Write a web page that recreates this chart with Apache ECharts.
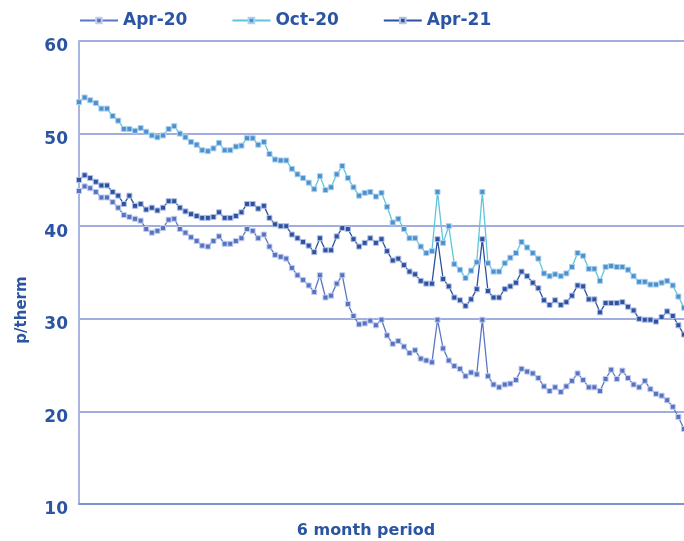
<!DOCTYPE html>
<html lang="en">
<head>
<meta charset="UTF-8">
<title>p/therm</title>
<script src="https://cdn.jsdelivr.net/npm/echarts@6/dist/echarts.min.js"></script>
<style>
  html, body { margin: 0; padding: 0; background: #fff; }
  #main { width: 684px; height: 541px; }
</style>
</head>
<body>
<div id="main"></div>
<script>
// p/therm, one point per trading day over the 6 month period
const apr20 = [
  43.8, 44.3, 44.1, 43.7, 43.1, 43.1, 42.6, 42.0, 41.2, 41.0,
  40.8, 40.6, 39.7, 39.3, 39.5, 39.8, 40.7, 40.8, 39.7, 39.3,
  38.8, 38.4, 37.9, 37.8, 38.4, 38.9, 38.1, 38.1, 38.4, 38.7,
  39.7, 39.5, 38.7, 39.1, 37.8, 36.9, 36.7, 36.5, 35.5, 34.7,
  34.2, 33.6, 32.9, 34.7, 32.3, 32.5, 33.8, 34.7, 31.6, 30.3,
  29.4, 29.5, 29.8, 29.3, 29.9, 28.2, 27.3, 27.6, 27.0, 26.3,
  26.6, 25.7, 25.5, 25.3, 29.9, 26.8, 25.5, 24.9, 24.6, 23.8,
  24.2, 24.0, 29.9, 23.8, 22.9, 22.6, 22.9, 23.0, 23.4, 24.6,
  24.3, 24.1, 23.6, 22.7, 22.2, 22.6, 22.1, 22.7, 23.3, 24.1,
  23.4, 22.6, 22.6, 22.2, 23.5, 24.5, 23.5, 24.4, 23.6, 22.9,
  22.6, 23.3, 22.4, 21.9, 21.7, 21.2, 20.5, 19.4, 18.1
];
const oct20 = [
  53.4, 53.9, 53.6, 53.3, 52.7, 52.7, 51.9, 51.4, 50.5, 50.5,
  50.3, 50.6, 50.2, 49.8, 49.6, 49.8, 50.5, 50.8, 50.0, 49.6,
  49.1, 48.8, 48.2, 48.1, 48.4, 49.0, 48.2, 48.2, 48.6, 48.7,
  49.5, 49.5, 48.8, 49.1, 47.8, 47.2, 47.1, 47.1, 46.2, 45.6,
  45.2, 44.7, 44.0, 45.4, 43.9, 44.2, 45.6, 46.5, 45.2, 44.2,
  43.3, 43.6, 43.7, 43.2, 43.6, 42.1, 40.4, 40.8, 39.7, 38.7,
  38.7, 37.8, 37.1, 37.3, 43.7, 38.2, 40.0, 35.9, 35.3, 34.4,
  35.2, 36.1, 43.7, 36.0, 35.1, 35.1, 36.0, 36.6, 37.1, 38.3,
  37.7, 37.1, 36.5, 34.9, 34.6, 34.8, 34.6, 34.9, 35.6, 37.1,
  36.8, 35.4, 35.4, 34.1, 35.6, 35.7, 35.6, 35.6, 35.3, 34.6,
  34.0, 34.0, 33.7, 33.7, 33.9, 34.1, 33.6, 32.4, 31.2
];
const apr21 = [
  45.0, 45.5, 45.2, 44.8, 44.4, 44.4, 43.7, 43.3, 42.4, 43.3,
  42.2, 42.4, 41.8, 42.0, 41.7, 42.0, 42.7, 42.7, 42.0, 41.6,
  41.3, 41.1, 40.9, 40.9, 41.0, 41.5, 40.9, 40.9, 41.1, 41.5,
  42.4, 42.4, 41.9, 42.2, 40.9, 40.2, 40.0, 40.0, 39.1, 38.7,
  38.3, 37.9, 37.2, 38.7, 37.4, 37.4, 38.9, 39.8, 39.7, 38.6,
  37.8, 38.2, 38.7, 38.2, 38.6, 37.3, 36.3, 36.5, 35.8, 35.1,
  34.8, 34.1, 33.8, 33.8, 38.6, 34.3, 33.5, 32.3, 32.0, 31.4,
  32.1, 33.2, 38.6, 33.0, 32.3, 32.3, 33.2, 33.5, 33.9, 35.1,
  34.6, 33.9, 33.3, 32.0, 31.5, 32.0, 31.5, 31.8, 32.5, 33.6,
  33.5, 32.1, 32.1, 30.7, 31.7, 31.7, 31.7, 31.8, 31.3, 30.9,
  30.0, 29.9, 29.9, 29.7, 30.2, 30.8, 30.3, 29.3, 28.3
];
const seriesNames = ['Apr-20', 'Oct-20', 'Apr-21'];
const days = apr20.map((v, i) => i + 1);

const textBlue = '#2b55a3';
const font = 'DejaVu Sans';

function lineSeries(name, data, lineColor, markColor, borderColor) {
    return {
        name: name,
        type: 'line',
        data: data,
        symbol: 'rect',
        symbolSize: 5,
        showAllSymbol: true,
        lineStyle: { color: lineColor, width: 1.3 },
        itemStyle: { color: markColor, borderColor: borderColor, borderWidth: 1 },
        emphasis: { disabled: true },
        animation: false
    };
}

let chart = echarts.init(document.getElementById('main'));
chart.setOption({
    backgroundColor: '#fff',
    legend: {
        data: seriesNames,
        left: 79,
        top: 12,
        padding: 0,
        itemWidth: 38,
        itemHeight: 7,
        itemGap: 44,
        textStyle: { color: textBlue, fontFamily: font, fontWeight: 'bold', fontSize: 17 }
    },
    grid: { left: 79, right: 0, top: 41, bottom: 37, containLabel: false },
    xAxis: {
        type: 'category',
        data: days,
        boundaryGap: false,
        axisLine: { show: true, lineStyle: { color: '#7088cc', width: 1.5 } },
        axisTick: { show: false },
        axisLabel: { show: false },
        splitLine: { show: false }
    },
    yAxis: {
        type: 'value',
        min: 10,
        max: 60,
        interval: 10,
        axisLine: { show: true, lineStyle: { color: '#a9b5e0', width: 2 } },
        axisTick: { show: false },
        axisLabel: {
            margin: 11,
            formatter: '{v|{value}}',
            rich: {
                v: {
                    color: textBlue,
                    fontFamily: font,
                    fontWeight: 'bold',
                    fontSize: 17,
                    padding: [12, 0, 0, 0]
                }
            }
        },
        splitLine: { lineStyle: { color: '#7f93d3', width: 1.5 } }
    },
    graphic: [
        {
            type: 'text',
            x: 22,
            y: 310,
            rotation: Math.PI / 2,
            style: {
                text: 'p/therm',
                fill: textBlue,
                font: 'bold 15px "DejaVu Sans"',
                align: 'center',
                verticalAlign: 'middle'
            }
        },
        {
            type: 'text',
            x: 366,
            y: 531,
            style: {
                text: '6 month period',
                fill: textBlue,
                font: 'bold 16px "DejaVu Sans"',
                align: 'center',
                verticalAlign: 'middle'
            }
        }
    ],
    series: [
        lineSeries('Apr-20', apr20, '#5b77c4', '#5673c2', '#c3cdee'),
        lineSeries('Oct-20', oct20, '#5ec6d8', '#4f8fd0', '#a9d3ec'),
        lineSeries('Apr-21', apr21, '#2c52a0', '#2c52a0', '#b3c0e6')
    ]
});
</script>
</body>
</html>
